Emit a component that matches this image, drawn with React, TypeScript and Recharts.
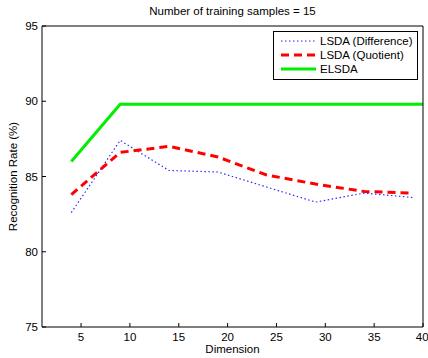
import { LineChart, Line, XAxis, YAxis, Legend, Label } from 'recharts'

// Dimension values for each curve
const dims = [4, 9, 14, 19, 24, 29, 34, 39]
const lsdaDifference = [82.6, 87.4, 85.4, 85.3, 84.3, 83.3, 83.9, 83.6]
const lsdaQuotient = [83.8, 86.6, 87.0, 86.3, 85.1, 84.5, 84.0, 83.9]
const elsdaDims = [4, 9, 14, 19, 24, 29, 34, 40]
const elsda = [86.0, 89.8, 89.8, 89.8, 89.8, 89.8, 89.8, 89.8]

const xTicks = [5, 10, 15, 20, 25, 30, 35, 40]
const yTicks = [75, 80, 85, 90, 95]

const FONT = '"Liberation Sans", Arial, Helvetica, sans-serif'
const FS = 11.5

const diffData = dims.map((d, i) => ({ dim: d, value: lsdaDifference[i] }))
const quotData = dims.map((d, i) => ({ dim: d, value: lsdaQuotient[i] }))
const elsdaData = elsdaDims.map((d, i) => ({ dim: d, value: elsda[i] }))

const LEGEND_ITEMS = [
  { name: 'LSDA (Difference)', color: '#2a2aff', width: 1.2, dash: '1.5 2.5' },
  { name: 'LSDA (Quotient)', color: '#ff0000', width: 3, dash: '8 5' },
  { name: 'ELSDA', color: '#00ee00', width: 3, dash: undefined },
]

function LegendBox() {
  return (
    <div
      style={{
        border: '1px solid #000',
        background: '#fff',
        width: 143,
        height: 45,
        paddingTop: 2,
        boxSizing: 'content-box',
        fontFamily: FONT,
        fontSize: FS,
        color: '#000',
      }}
    >
      {LEGEND_ITEMS.map(item => (
        <div key={item.name} style={{ display: 'flex', alignItems: 'center', height: 14, whiteSpace: 'nowrap' }}>
          <svg width={46} height={14} style={{ flex: 'none' }}>
            <line
              x1={7}
              x2={42}
              y1={7}
              y2={7}
              stroke={item.color}
              strokeWidth={item.width}
              strokeDasharray={item.dash}
            />
          </svg>
          <span style={{ marginLeft: 0 }}>{item.name}</span>
        </div>
      ))}
    </div>
  )
}

export default function App() {
  return (
    <div style={{ position: 'absolute', left: 0, top: 0, background: '#fff' }}>
      <LineChart width={428} height={358} margin={{ top: 0, right: 0, bottom: 0, left: 0 }} style={{ fontFamily: FONT }}>
        <XAxis
          dataKey="dim"
          type="number"
          domain={[1, 40]}
          ticks={xTicks}
          allowDataOverflow
          height={31}
          tickSize={-4}
          tickMargin={10}
          tick={{ fontSize: FS, fill: '#000' }}
          stroke="#000"
        >
          <Label value="Dimension" position="insideBottom" offset={5} style={{ fontSize: FS, fill: '#000' }} />
        </XAxis>
        <XAxis
          xAxisId="top"
          orientation="top"
          type="number"
          domain={[1, 40]}
          ticks={xTicks}
          allowDataOverflow
          height={26}
          tickSize={-4}
          tick={false}
          stroke="#000"
        >
          <Label
            value="Number of training samples = 15"
            position="insideTop"
            offset={6.5}
            style={{ fontSize: FS, fill: '#000' }}
          />
        </XAxis>
        <YAxis
          type="number"
          domain={[75, 95]}
          ticks={yTicks}
          allowDataOverflow
          width={42}
          tickSize={-4}
          tickMargin={8}
          tick={{ fontSize: FS, fill: '#000' }}
          stroke="#000"
        >
          <Label
            value="Recognition Rate (%)"
            angle={-90}
            position="insideLeft"
            offset={13}
            style={{ fontSize: FS, fill: '#000', textAnchor: 'middle' }}
          />
        </YAxis>
        <YAxis
          yAxisId="right"
          orientation="right"
          type="number"
          domain={[75, 95]}
          ticks={yTicks}
          allowDataOverflow
          width={5}
          tickSize={-4}
          tick={false}
          stroke="#000"
        />
        <Legend
          layout="horizontal"
          verticalAlign="middle"
          wrapperStyle={{ left: 273, top: 31, width: 145 }}
          content={() => <LegendBox />}
        />
        <Line
          data={diffData}
          dataKey="value"
          name="LSDA (Difference)"
          stroke="#2a2aff"
          strokeWidth={1.2}
          strokeDasharray="1.5 2.5"
          dot={false}
          isAnimationActive={false}
        />
        <Line
          data={quotData}
          dataKey="value"
          name="LSDA (Quotient)"
          stroke="#ff0000"
          strokeWidth={3}
          strokeDasharray="8 5"
          dot={false}
          isAnimationActive={false}
        />
        <Line
          data={elsdaData}
          dataKey="value"
          name="ELSDA"
          stroke="#00ee00"
          strokeWidth={3}
          dot={false}
          isAnimationActive={false}
        />
      </LineChart>
    </div>
  )
}
